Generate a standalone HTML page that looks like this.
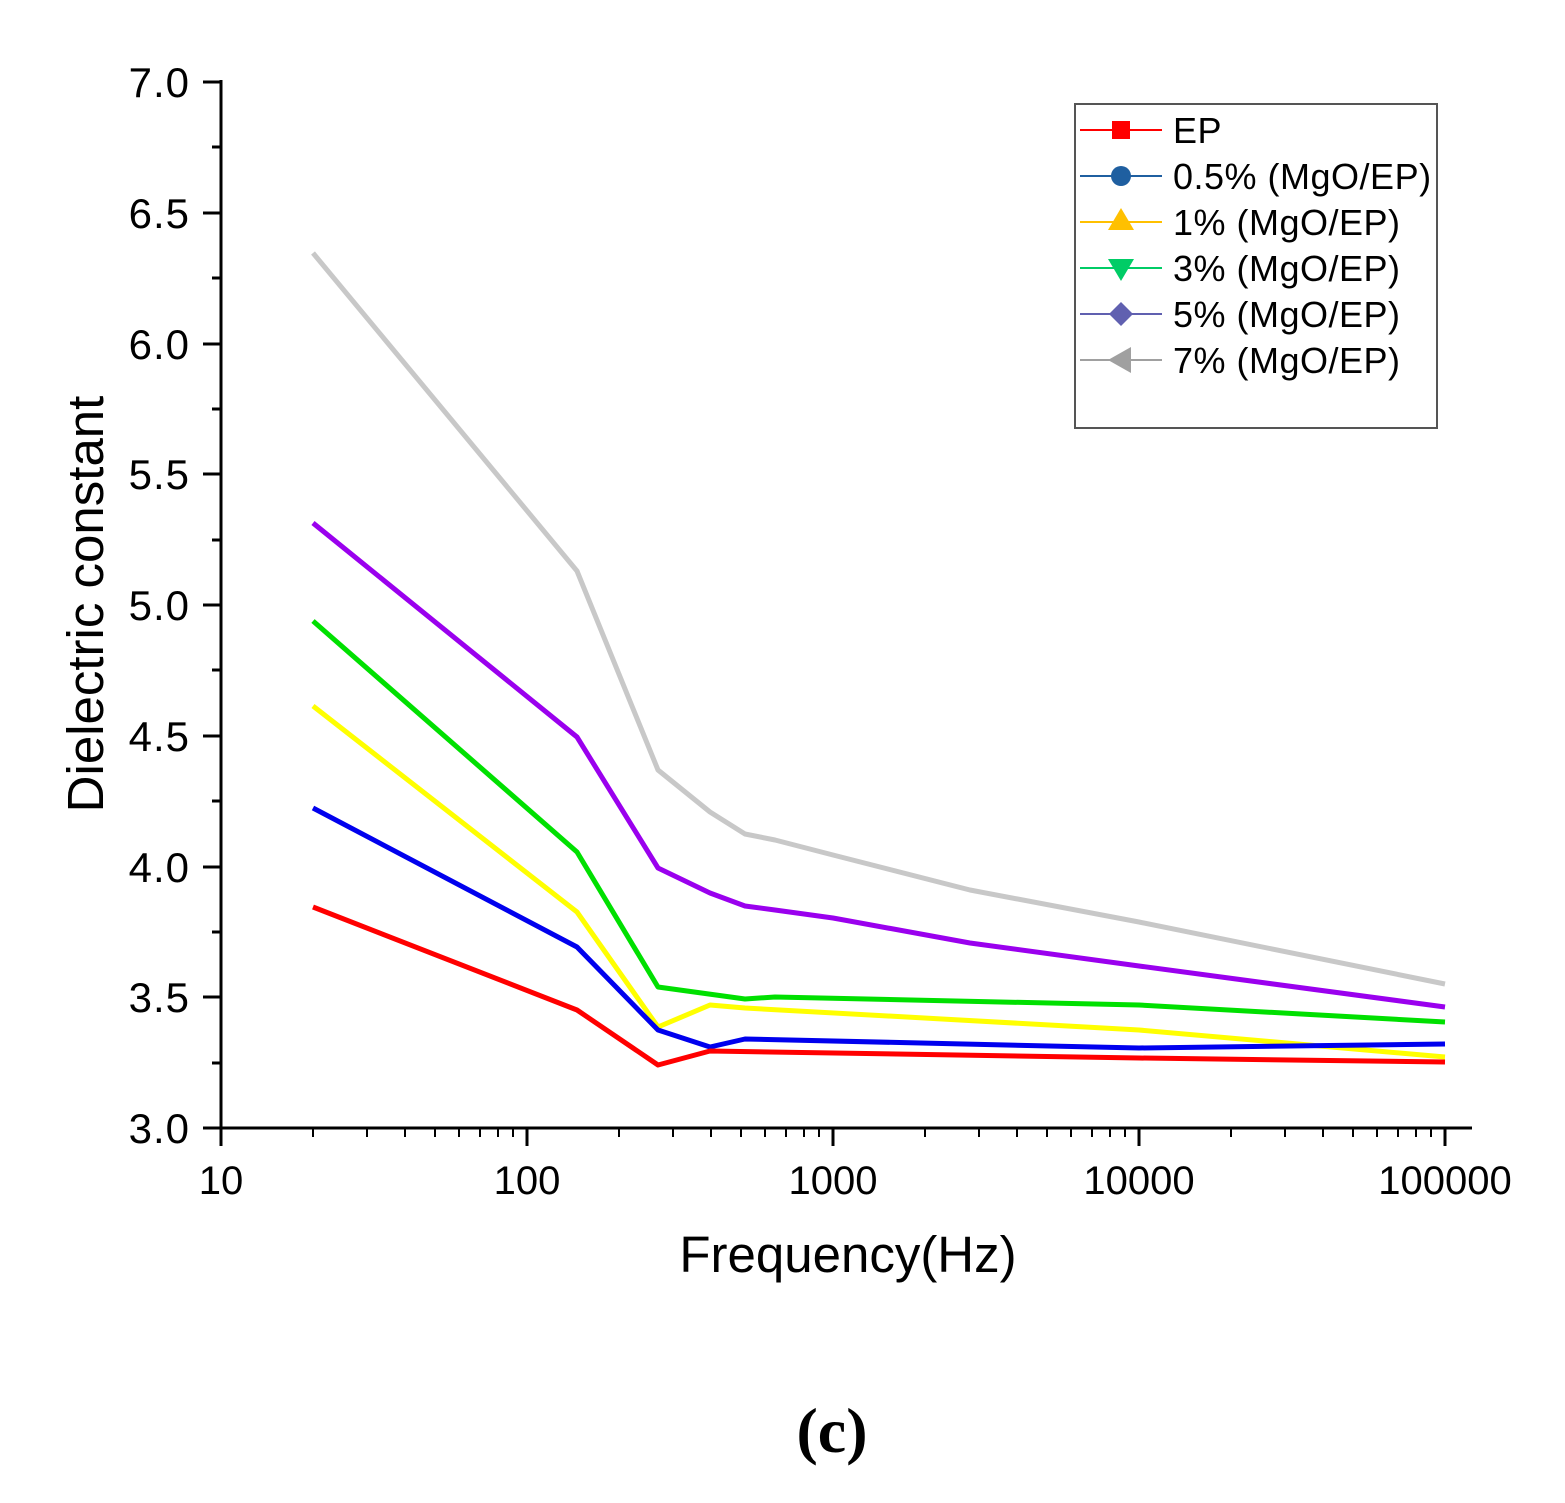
<!DOCTYPE html>
<html><head><meta charset="utf-8"><style>body{margin:0;background:#fff}</style></head><body>
<svg width="1565" height="1498" xmlns="http://www.w3.org/2000/svg" font-family="Liberation Sans, sans-serif">
<rect width="1565" height="1498" fill="#fff"/>
<g stroke="#000" stroke-width="3" fill="none">
<line x1="221" y1="80" x2="221" y2="1129"/>
<line x1="220" y1="1128" x2="1472" y2="1128"/>
<path d="M203 82H221M203 213H221M203 344H221M203 474H221M203 605H221M203 736H221M203 867H221M203 997H221M203 1128H221"/>
<path d="M212 147H221M212 278H221M212 409H221M212 540H221M212 670H221M212 801H221M212 932H221M212 1063H221"/>
<path d="M221 1128V1146M527 1128V1146M833 1128V1146M1139 1128V1146M1445 1128V1146"/>
</g>
<g stroke="#000" stroke-width="2">
<path d="M313 1128v9M367 1128v9M405 1128v9M435 1128v9M459 1128v9M480 1128v9M498 1128v9M513 1128v9M619 1128v9M673 1128v9M711 1128v9M741 1128v9M765 1128v9M786 1128v9M804 1128v9M819 1128v9M925 1128v9M979 1128v9M1017 1128v9M1047 1128v9M1071 1128v9M1092 1128v9M1110 1128v9M1125 1128v9M1231 1128v9M1285 1128v9M1323 1128v9M1353 1128v9M1377 1128v9M1398 1128v9M1416 1128v9M1431 1128v9"/>
</g>
<g font-size="42" text-anchor="end" fill="#000" letter-spacing="1">
<text x="190" y="97">7.0</text><text x="190" y="228">6.5</text><text x="190" y="359">6.0</text><text x="190" y="489">5.5</text><text x="190" y="620">5.0</text><text x="190" y="751">4.5</text><text x="190" y="882">4.0</text><text x="190" y="1012">3.5</text><text x="190" y="1143">3.0</text>
</g>
<g font-size="40" text-anchor="middle" fill="#000">
<text x="221" y="1194">10</text><text x="527" y="1194">100</text><text x="833" y="1194">1000</text><text x="1139" y="1194">10000</text><text x="1445" y="1194">100000</text>
</g>
<text x="848" y="1272" font-size="51" text-anchor="middle">Frequency(Hz)</text>
<text transform="translate(103,604) rotate(-90)" font-size="51" text-anchor="middle">Dielectric constant</text>
<text x="832" y="1452" font-size="64" text-anchor="middle" font-family="Liberation Serif, serif" font-weight="bold">(c)</text>
<g fill="none" stroke-width="5" stroke-linejoin="round">
<polyline stroke="#c8c8c8" points="313,253 577,571 658,770 710,812 745,834 775,840 833,855 970,890 1139,922 1445,984"/>
<polyline stroke="#9a00ee" points="313,523 577,737 658,868 710,893 745,906 775,910 833,918 970,943 1139,966 1445,1007"/>
<polyline stroke="#00e000" points="313,621 577,852 658,987 745,999 775,997 1139,1005 1445,1022"/>
<polyline stroke="#ffff00" points="313,706 577,912 658,1027 710,1005 745,1008 1139,1030 1445,1057"/>
<polyline stroke="#0000ee" points="313,808 577,947 658,1030 710,1047 745,1039 1139,1048 1445,1044"/>
<polyline stroke="#ff0000" points="313,907 577,1010 658,1065 710,1051 1139,1058 1445,1062"/>
</g>
<rect x="1075" y="104" width="362" height="324" fill="#fff" stroke="#555" stroke-width="2"/>
<g stroke-width="2">
<line x1="1080" y1="130" x2="1162" y2="130" stroke="#ff0000"/><rect x="1112" y="121" width="18" height="18" fill="#ff0000"/>
<line x1="1080" y1="176" x2="1162" y2="176" stroke="#1f5fa0"/><circle cx="1121" cy="176" r="10" fill="#1f5fa0"/>
<line x1="1080" y1="222" x2="1162" y2="222" stroke="#ffc000"/><polygon points="1121,208 1134,230 1108,230" fill="#ffc000"/>
<line x1="1080" y1="268" x2="1162" y2="268" stroke="#00cc66"/><polygon points="1108,259 1134,259 1121,281" fill="#00cc66"/>
<line x1="1080" y1="314" x2="1162" y2="314" stroke="#6060b0"/><polygon points="1121,302 1133,314 1121,326 1109,314" fill="#6060b0"/>
<line x1="1080" y1="360" x2="1162" y2="360" stroke="#a0a0a0"/><polygon points="1108,360 1131,347 1131,373" fill="#a0a0a0"/>
</g>
<g font-size="36" fill="#000" letter-spacing="0.5">
<text x="1173" y="143">EP</text><text x="1173" y="189">0.5% (MgO/EP)</text><text x="1173" y="235">1% (MgO/EP)</text><text x="1173" y="281">3% (MgO/EP)</text><text x="1173" y="327">5% (MgO/EP)</text><text x="1173" y="373">7% (MgO/EP)</text>
</g>
</svg>
</body></html>
